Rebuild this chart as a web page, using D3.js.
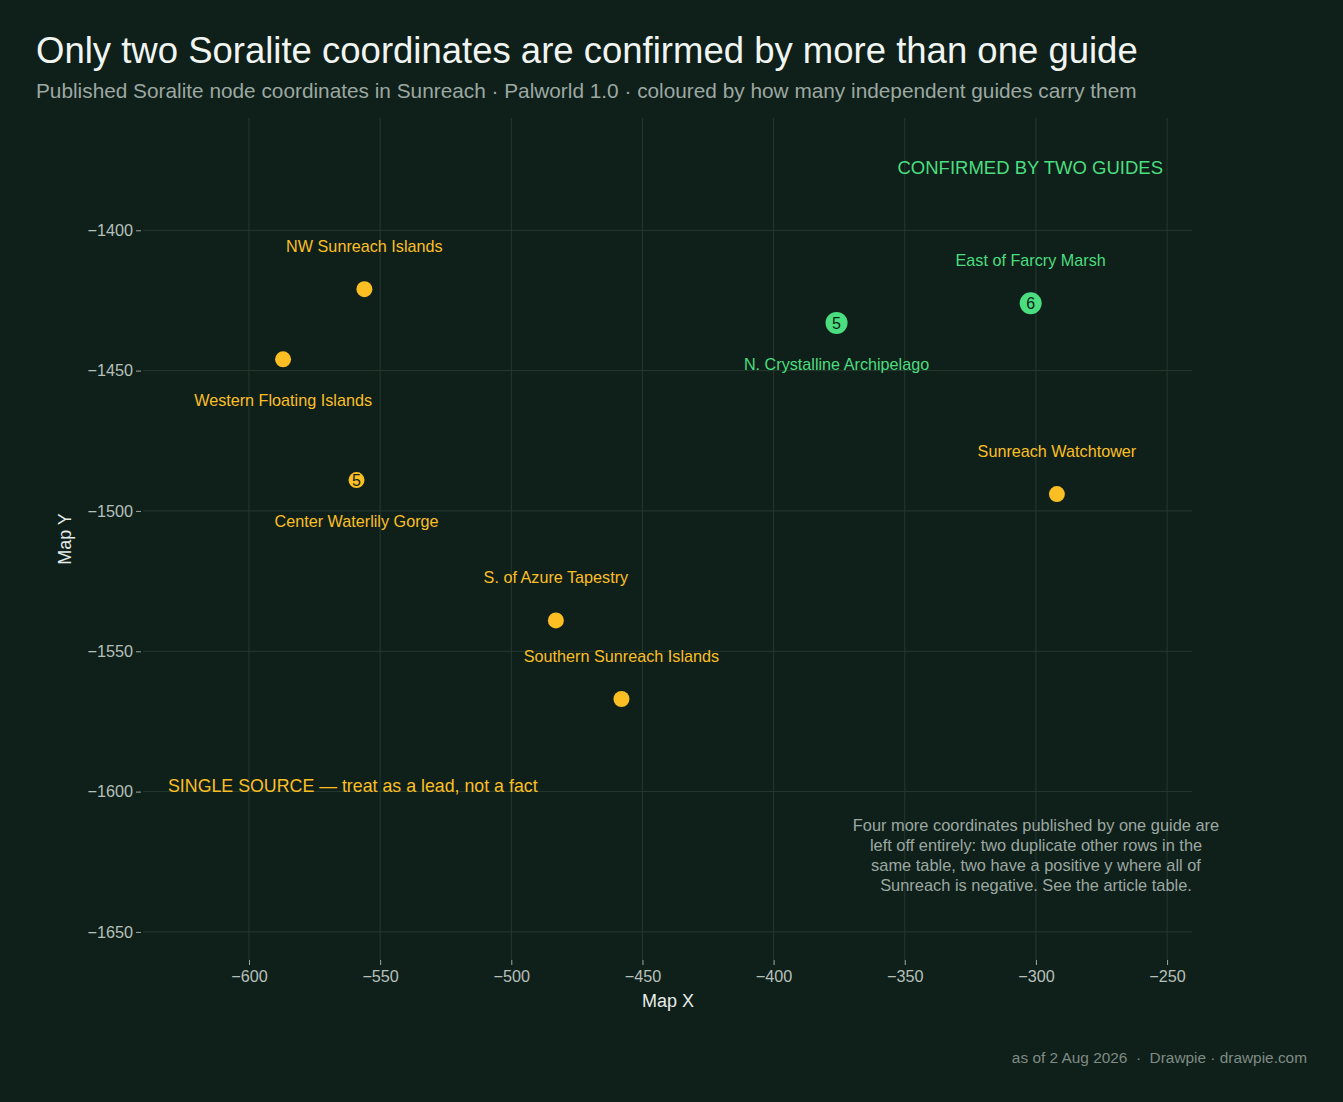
<!DOCTYPE html><html><head><meta charset="utf-8"><script src="https://cdn.jsdelivr.net/npm/d3@7"></script>
<style>body{margin:0;background:#0f1f19;font-family:"Liberation Sans",Arial,sans-serif}text{white-space:pre}</style></head><body><svg id="c" width="1343" height="1102"></svg>
<script>
const names=["NW Sunreach Islands","Western Floating Islands","Center Waterlily Gorge","S. of Azure Tapestry","Southern Sunreach Islands","Sunreach Watchtower","N. Crystalline Archipelago","East of Farcry Marsh"];
const xs=[-556,-587,-559,-483,-458,-292,-376,-302];
const ys=[-1421,-1446,-1489,-1539,-1567,-1494,-1433,-1426];
const guides=[1,1,1,1,1,1,2,2];
const badges=["","","5","","","","5","6"];
const labelPos=["above","below","below","above","above","above","below","above"];
const xTicks=[-600,-550,-500,-450,-400,-350,-300,-250];
const yTicks=[-1400,-1450,-1500,-1550,-1600,-1650];
const svg=d3.select("#c");
const F='"Liberation Sans",Arial,sans-serif';
svg.attr("font-family",F);
const Y="#fbbf24",G="#4ade80";
const x=d3.scaleLinear().domain([-640.4,-240.5]).range([143,1192]);
const y=d3.scaleLinear().domain([-1360,-1660]).range([118,960]);
svg.append("text").attr("x",36).attr("y",63).attr("fill","#f1f5f2").attr("font-size",36.5).text("Only two Soralite coordinates are confirmed by more than one guide");
svg.append("text").attr("x",36).attr("y",98).attr("fill","#9ca8a2").attr("font-size",20.8).text("Published Soralite node coordinates in Sunreach · Palworld 1.0 · coloured by how many independent guides carry them");
const g=svg.append("g");
xTicks.forEach(t=>g.append("line").attr("x1",x(t)).attr("x2",x(t)).attr("y1",118).attr("y2",960).attr("stroke","#243a30"));
yTicks.forEach(t=>g.append("line").attr("x1",143).attr("x2",1192).attr("y1",y(t)).attr("y2",y(t)).attr("stroke","#243a30"));
const xa=svg.append("g").attr("transform","translate(0,960)").call(d3.axisBottom(x).tickValues(xTicks).tickSize(5).tickFormat(d=>String(d).replace("-","\u2212")));
const ya=svg.append("g").attr("transform","translate(141,0)").call(d3.axisLeft(y).tickValues(yTicks).tickSize(5).tickFormat(d=>String(d).replace("-","\u2212")));
[xa,ya].forEach(a=>{a.select(".domain").remove();a.selectAll("line").attr("stroke","#9ca8a2");a.selectAll("text").attr("fill","#b6c0bb").attr("font-size",16.2).attr("font-family",F);});
xa.selectAll("text").attr("dy","0.85em");
svg.append("text").attr("x",668).attr("y",1007).attr("text-anchor","middle").attr("fill","#e6ece9").attr("font-size",18).text("Map X");
svg.append("text").attr("transform","translate(71,539) rotate(-90)").attr("text-anchor","middle").attr("fill","#e6ece9").attr("font-size",18).text("Map Y");
names.forEach((n,i)=>{
 const c=guides[i]>1?G:Y, r=guides[i]>1?11:8, cx=x(xs[i]), cy=y(ys[i]);
 svg.append("circle").attr("cx",cx).attr("cy",cy).attr("r",r).attr("fill",c);
 if(badges[i])svg.append("text").attr("x",cx).attr("y",cy+6).attr("text-anchor","middle").attr("fill","#0f1f19").attr("font-size",16).text(badges[i]);
 svg.append("text").attr("x",cx).attr("y",labelPos[i]=="above"?cy-37:cy+47).attr("text-anchor","middle").attr("fill",c).attr("font-size",16.2).text(n);
});
svg.append("text").attr("x",1163).attr("y",174).attr("text-anchor","end").attr("fill",G).attr("font-size",18.5).text("CONFIRMED BY TWO GUIDES");
svg.append("text").attr("x",168).attr("y",792).attr("fill",Y).attr("font-size",17.8).text("SINGLE SOURCE — treat as a lead, not a fact");
["Four more coordinates published by one guide are","left off entirely: two duplicate other rows in the","same table, two have a positive y where all of","Sunreach is negative. See the article table."].forEach((l,i)=>svg.append("text").attr("x",1036).attr("y",831+i*20).attr("text-anchor","middle").attr("fill","#9ca8a2").attr("font-size",16.4).text(l));
svg.append("text").attr("x",1307).attr("y",1063).attr("text-anchor","end").attr("fill","#7f8b85").attr("font-size",15.4).text("as of 2 Aug 2026  ·  Drawpie · drawpie.com");
</script></body></html>
